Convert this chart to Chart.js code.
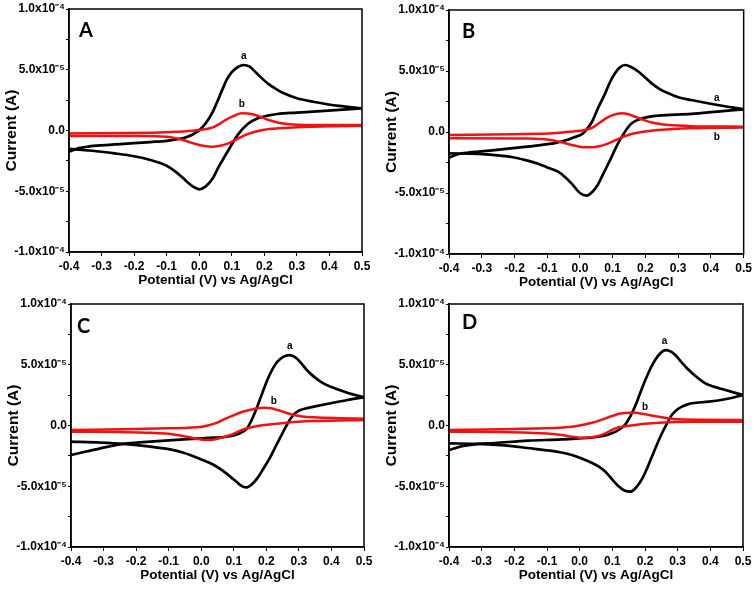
<!DOCTYPE html>
<html>
<head>
<meta charset="utf-8">
<script src="https://cdn.jsdelivr.net/npm/chart.js@4.4.1/dist/chart.umd.min.js"></script>
<style>
  body { margin: 0; background: #fff; width: 755px; height: 589px; overflow: hidden; position: relative; }
  .panel { position: absolute; }
</style>
</head>
<body>
<div class="panel" style="left:0px;top:0px"><canvas id="chartA" width="376" height="292"></canvas></div>
<div class="panel" style="left:380px;top:0px"><canvas id="chartB" width="375" height="294"></canvas></div>
<div class="panel" style="left:2px;top:295px"><canvas id="chartC" width="376" height="292"></canvas></div>
<div class="panel" style="left:380px;top:295px"><canvas id="chartD" width="375" height="292"></canvas></div>
<script>
// Potential in V, current in units of 1e-5 A
// Panel A
const A_aFwdV = [-0.40, -0.37, -0.34, -0.30, -0.21, -0.15, -0.10, -0.07, -0.04, -0.02, 0.00, 0.02, 0.04, 0.055, 0.07, 0.085, 0.10, 0.12, 0.137, 0.155, 0.175, 0.21, 0.24, 0.26, 0.30, 0.35, 0.43, 0.50];
const A_aFwdI = [-1.75, -1.45, -1.32, -1.22, -1.06, -0.95, -0.85, -0.73, -0.55, -0.33, 0.02, 0.60, 1.45, 2.35, 3.30, 4.20, 4.80, 5.25, 5.39, 5.25, 4.75, 3.88, 3.35, 3.06, 2.65, 2.37, 2.02, 1.83];
const A_aRevV = [0.50, 0.43, 0.35, 0.30, 0.24, 0.21, 0.18, 0.15, 0.12, 0.09, 0.06, 0.04, 0.02, 0.00, -0.02, -0.04, -0.07, -0.10, -0.15, -0.20, -0.26, -0.30, -0.36, -0.40];
const A_aRevI = [1.83, 1.69, 1.55, 1.47, 1.36, 1.22, 1.00, 0.55, -0.30, -1.60, -2.98, -4.00, -4.60, -4.84, -4.60, -4.15, -3.45, -2.90, -2.43, -2.12, -1.88, -1.75, -1.60, -1.50];
const A_bFwdV = [-0.40, -0.20, -0.10, -0.05, 0.00, 0.04, 0.06, 0.08, 0.11, 0.131, 0.15, 0.172, 0.213, 0.24, 0.264, 0.30, 0.346, 0.50];
const A_bFwdI = [-0.25, -0.20, -0.14, -0.08, 0.04, 0.24, 0.50, 0.86, 1.25, 1.41, 1.40, 1.28, 0.86, 0.66, 0.55, 0.48, 0.45, 0.45];
const A_bRevV = [0.50, 0.42, 0.346, 0.244, 0.20, 0.172, 0.15, 0.131, 0.11, 0.09, 0.065, 0.039, 0.02, 0.00, -0.025, -0.05, -0.10, -0.20, -0.40];
const A_bRevI = [0.37, 0.35, 0.31, 0.18, 0.07, -0.10, -0.28, -0.51, -0.80, -1.06, -1.25, -1.33, -1.30, -1.19, -1.00, -0.78, -0.51, -0.46, -0.45];

// Panel B
const B_aFwdV = [-0.40, -0.37, -0.34, -0.31, -0.26, -0.16, -0.10, -0.08, -0.04, -0.02, 0.005, 0.02, 0.036, 0.055, 0.077, 0.092, 0.107, 0.122, 0.138, 0.155, 0.179, 0.219, 0.245, 0.27, 0.30, 0.34, 0.42, 0.50];
const B_aFwdI = [-2.10, -1.80, -1.68, -1.61, -1.48, -1.20, -1.00, -0.93, -0.66, -0.45, -0.20, 0.20, 0.80, 1.95, 3.17, 4.10, 4.81, 5.30, 5.49, 5.35, 4.94, 3.99, 3.50, 3.17, 2.85, 2.62, 2.21, 1.86];
const B_aRevV = [0.50, 0.42, 0.34, 0.24, 0.21, 0.19, 0.173, 0.158, 0.143, 0.128, 0.112, 0.097, 0.082, 0.067, 0.055, 0.04, 0.02, 0.00, -0.026, -0.045, -0.067, -0.10, -0.128, -0.17, -0.209, -0.26, -0.31, -0.40];
const B_aRevI = [1.86, 1.67, 1.48, 1.34, 1.24, 1.12, 0.95, 0.71, 0.25, -0.38, -1.15, -2.02, -2.85, -3.66, -4.30, -4.85, -5.22, -5.00, -4.21, -3.70, -3.25, -2.90, -2.60, -2.28, -2.05, -1.90, -1.80, -1.75];
const B_bFwdV = [-0.40, -0.20, -0.08, -0.026, 0.015, 0.04, 0.06, 0.077, 0.10, 0.128, 0.148, 0.168, 0.19, 0.209, 0.24, 0.27, 0.341, 0.50];
const B_bFwdI = [-0.25, -0.18, -0.11, 0.03, 0.17, 0.38, 0.75, 1.08, 1.38, 1.53, 1.45, 1.26, 1.03, 0.85, 0.67, 0.57, 0.48, 0.44];
const B_bRevV = [0.50, 0.341, 0.24, 0.20, 0.168, 0.148, 0.128, 0.107, 0.087, 0.06, 0.036, 0.015, -0.005, -0.026, -0.05, -0.077, -0.12, -0.16, -0.40];
const B_bRevI = [0.36, 0.30, 0.16, 0.05, -0.11, -0.25, -0.44, -0.68, -0.93, -1.17, -1.26, -1.26, -1.18, -1.07, -0.88, -0.71, -0.58, -0.53, -0.52];

// Panel C
const C_aFwdV = [-0.40, -0.35, -0.31, -0.24, -0.156, -0.054, 0.04, 0.07, 0.10, 0.12, 0.14, 0.155, 0.172, 0.188, 0.203, 0.218, 0.234, 0.252, 0.270, 0.288, 0.305, 0.325, 0.346, 0.37, 0.398, 0.449, 0.50];
const C_aFwdI = [-2.43, -2.12, -1.88, -1.52, -1.33, -1.14, -1.00, -0.95, -0.82, -0.62, -0.25, 0.45, 1.55, 2.70, 3.74, 4.60, 5.25, 5.65, 5.80, 5.62, 5.20, 4.55, 4.02, 3.55, 3.19, 2.70, 2.32];
const C_aRevV = [0.50, 0.449, 0.398, 0.346, 0.32, 0.305, 0.29, 0.275, 0.26, 0.244, 0.228, 0.213, 0.19, 0.172, 0.155, 0.138, 0.12, 0.10, 0.07, 0.039, 0.00, -0.054, -0.10, -0.156, -0.238, -0.31, -0.40];
const C_aRevI = [2.32, 2.10, 1.83, 1.55, 1.40, 1.28, 1.05, 0.59, -0.10, -0.92, -1.75, -2.57, -3.60, -4.35, -4.85, -5.10, -4.90, -4.45, -3.80, -3.25, -2.80, -2.24, -1.95, -1.74, -1.52, -1.41, -1.33];
const C_bFwdV = [-0.40, -0.20, -0.10, -0.04, -0.003, 0.02, 0.045, 0.07, 0.101, 0.13, 0.162, 0.193, 0.215, 0.234, 0.26, 0.285, 0.31, 0.346, 0.42, 0.50];
const C_bFwdI = [-0.37, -0.28, -0.23, -0.18, -0.12, 0.00, 0.20, 0.50, 0.86, 1.15, 1.36, 1.47, 1.42, 1.28, 1.05, 0.86, 0.75, 0.67, 0.60, 0.56];
const C_bRevV = [0.50, 0.42, 0.346, 0.30, 0.264, 0.225, 0.193, 0.165, 0.141, 0.115, 0.09, 0.06, 0.035, 0.015, -0.003, -0.04, -0.075, -0.11, -0.156, -0.25, -0.40];
const C_bRevI = [0.45, 0.42, 0.37, 0.31, 0.23, 0.13, 0.04, -0.08, -0.23, -0.48, -0.78, -1.02, -1.17, -1.19, -1.14, -0.95, -0.78, -0.66, -0.59, -0.54, -0.51];

// Panel D
const D_aFwdV = [-0.40, -0.36, -0.31, -0.26, -0.157, -0.055, 0.04, 0.07, 0.099, 0.12, 0.14, 0.155, 0.17, 0.185, 0.201, 0.216, 0.231, 0.247, 0.262, 0.278, 0.293, 0.312, 0.334, 0.36, 0.385, 0.41, 0.446, 0.50];
const D_aFwdI = [-2.02, -1.70, -1.52, -1.44, -1.25, -1.14, -0.98, -0.86, -0.64, -0.35, 0.10, 0.75, 1.60, 2.65, 3.74, 4.65, 5.39, 5.95, 6.21, 6.10, 5.80, 5.20, 4.57, 3.95, 3.47, 3.20, 2.92, 2.51];
const D_aRevV = [0.50, 0.446, 0.395, 0.344, 0.328, 0.313, 0.298, 0.283, 0.268, 0.252, 0.236, 0.221, 0.206, 0.191, 0.173, 0.155, 0.137, 0.119, 0.10, 0.079, 0.06, 0.04, 0.01, -0.024, -0.06, -0.106, -0.16, -0.208, -0.31, -0.40];
const D_aRevI = [2.51, 2.16, 1.96, 1.83, 1.72, 1.55, 1.30, 0.90, 0.20, -0.64, -1.60, -2.57, -3.55, -4.40, -5.10, -5.45, -5.35, -5.00, -4.45, -3.80, -3.40, -3.11, -2.75, -2.43, -2.20, -2.02, -1.85, -1.69, -1.52, -1.47];
const D_bFwdV = [-0.40, -0.20, -0.106, -0.05, -0.024, 0.00, 0.038, 0.07, 0.099, 0.125, 0.15, 0.17, 0.191, 0.215, 0.242, 0.27, 0.303, 0.38, 0.50];
const D_bFwdI = [-0.37, -0.28, -0.23, -0.16, -0.10, 0.00, 0.22, 0.50, 0.78, 0.98, 1.05, 1.04, 0.97, 0.85, 0.72, 0.60, 0.51, 0.47, 0.45];
const D_bRevV = [0.50, 0.344, 0.242, 0.20, 0.17, 0.145, 0.119, 0.10, 0.079, 0.058, 0.038, 0.015, 0.00, -0.03, -0.055, -0.10, -0.157, -0.25, -0.40];
const D_bRevI = [0.31, 0.31, 0.23, 0.14, 0.04, -0.05, -0.15, -0.35, -0.64, -0.85, -0.97, -1.00, -1.00, -0.90, -0.78, -0.66, -0.59, -0.54, -0.51];

// Axis ticks (current in 1e-5 A)
const yTickValues = [10, 5, 0, -5, -10];
const yTickLabels = ['1.0x10\u207B\u2074', '5.0x10\u207B\u2075', '0.0', '-5.0x10\u207B\u2075', '-1.0x10\u207B\u2074'];
const xTitle = 'Potential (V) vs Ag/AgCl';
const yTitle = 'Current (A)';

// curve labels "a" / "b" : [potential, current]
const A_notes = [['a', 0.137, 6.1], ['b', 0.131, 2.2]];
const B_notes = [['a', 0.418, 2.76], ['b', 0.418, -0.44]];
const C_notes = [['a', 0.272, 6.5], ['b', 0.223, 2.0]];
const D_notes = [['a', 0.260, 6.9], ['b', 0.200, 1.5]];

const FONT = '"Liberation Sans", Arial, sans-serif';
Chart.defaults.font.family = FONT;
Chart.defaults.font.weight = 'bold';
Chart.defaults.color = '#000';

const panels = [
    { id: 'chartA', letter: 'A', padTop: 9, padRight: 14, lx: 10, ly: 28, notes: A_notes,
      a: [[A_aFwdV, A_aFwdI], [A_aRevV, A_aRevI]], b: [[A_bFwdV, A_bFwdI], [A_bRevV, A_bRevI]] },
    { id: 'chartB', letter: 'B', padTop: 10, padRight: 11, lx: 13, ly: 28, notes: B_notes,
      a: [[B_aFwdV, B_aFwdI], [B_aRevV, B_aRevI]], b: [[B_bFwdV, B_bFwdI], [B_bRevV, B_bRevI]] },
    { id: 'chartC', letter: 'C', padTop: 9, padRight: 14, lx: 6, ly: 29, notes: C_notes,
      a: [[C_aFwdV, C_aFwdI], [C_aRevV, C_aRevI]], b: [[C_bFwdV, C_bFwdI], [C_bRevV, C_bRevI]] },
    { id: 'chartD', letter: 'D', padTop: 9, padRight: 12, lx: 13, ly: 25, notes: D_notes,
      a: [[D_aFwdV, D_aFwdI], [D_aRevV, D_aRevI]], b: [[D_bFwdV, D_bFwdI], [D_bRevV, D_bRevI]] }
];

function toPoints(pair) {
    return pair[0].map((v, k) => ({ x: v, y: pair[1][k] }));
}

// frame, panel letter and curve labels
const panelDecor = {
    id: 'panelDecor',
    afterDatasetsDraw(chart, args, opts) {
        const { ctx, chartArea: area, scales } = chart;
        ctx.save();
        ctx.strokeStyle = '#000';
        ctx.lineWidth = 1.5;
        ctx.strokeRect(area.left, area.top, area.right - area.left, area.bottom - area.top);
        ctx.fillStyle = '#000';
        ctx.textAlign = 'left';
        ctx.textBaseline = 'alphabetic';
        ctx.font = 'bold 20px Lato, ' + FONT;
        ctx.fillText(opts.letter, area.left + opts.lx, area.top + opts.ly);
        ctx.font = 'bold 10px ' + FONT;
        ctx.textAlign = 'center';
        ctx.textBaseline = 'middle';
        opts.notes.forEach(n => {
            ctx.fillText(n[0], scales.x.getPixelForValue(n[1]), scales.y.getPixelForValue(n[2]));
        });
        ctx.restore();
    }
};

function makeChart(p) {
    const datasets = [];
    p.a.forEach(pair => datasets.push({
        data: toPoints(pair), borderColor: '#000', borderWidth: 2.7, order: 1
    }));
    p.b.forEach(pair => datasets.push({
        data: toPoints(pair), borderColor: '#f01212', borderWidth: 2.5, order: 0
    }));
    datasets.forEach(d => {
        d.showLine = true;
        d.pointRadius = 0;
        d.cubicInterpolationMode = 'monotone';
        d.fill = false;
    });

    new Chart(document.getElementById(p.id).getContext('2d'), {
        type: 'scatter',
        data: { datasets: datasets },
        options: {
            responsive: false,
            animation: false,
            events: [],
            layout: { padding: { left: 0, top: p.padTop, right: p.padRight, bottom: 0 } },
            plugins: {
                legend: { display: false },
                tooltip: { enabled: false },
                panelDecor: { letter: p.letter, lx: p.lx, ly: p.ly, notes: p.notes }
            },
            scales: {
                x: {
                    type: 'linear',
                    min: -0.4,
                    max: 0.5,
                    afterFit: scale => { scale.height = 40; },
                    ticks: {
                        stepSize: 0.1,
                        padding: 3,
                        font: { size: 12, weight: 'bold' },
                        callback: v => Math.abs(v) < 1e-9 ? '0.0' : v.toFixed(1)
                    },
                    grid: { drawOnChartArea: false, tickLength: 4, color: '#000', lineWidth: 1 },
                    border: { color: '#000', width: 1.5 },
                    title: { display: true, text: xTitle, font: { size: 13.5, weight: 'bold' }, padding: { top: 0, bottom: 4 } }
                },
                y: {
                    min: -10,
                    max: 10,
                    afterFit: scale => { scale.width = 69; },
                    ticks: {
                        stepSize: 2.5,
                        autoSkip: false,
                        padding: 1,
                        font: { size: 12, weight: 'bold' },
                        callback: v => {
                            const k = yTickValues.indexOf(v);
                            return k >= 0 ? yTickLabels[k] : '';
                        }
                    },
                    grid: { drawOnChartArea: false, tickLength: 3, color: '#000', lineWidth: 1 },
                    border: { color: '#000', width: 1.5 },
                    title: { display: true, text: yTitle, font: { size: 15.5, weight: 'bold' }, padding: { top: 2, bottom: 0 } }
                }
            }
        },
        plugins: [panelDecor]
    });
}

document.addEventListener('DOMContentLoaded', () => {
    panels.forEach(makeChart);
});
</script>
</body>
</html>
